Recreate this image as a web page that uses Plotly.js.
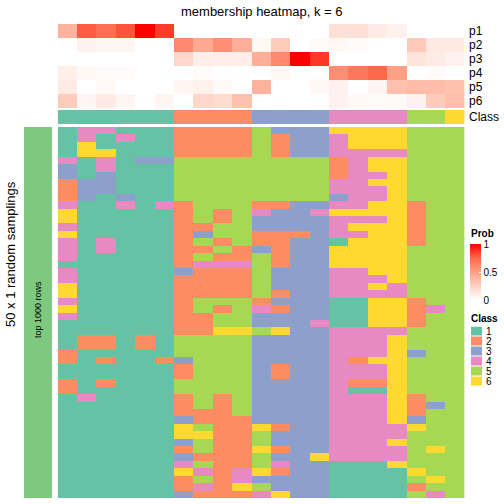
<!DOCTYPE html>
<html><head><meta charset="utf-8">
<script src="https://cdn.plot.ly/plotly-3.0.1.min.js"></script>
<style>html,body{margin:0;padding:0;background:#fff}#chart{width:504px;height:504px}</style>
</head><body><div id="chart"></div>
<script>
// ---------- data ----------
const chartTitle = 'membership heatmap, k = 6';
const sideTitle = '50 x 1 random samplings';
const barLabel = 'top 1000 rows';
const classNames = ['1','2','3','4','5','6'];
const classColors = ['#66C2A5','#FC8D62','#8DA0CB','#E78AC3','#A6D854','#FFD92F'];
const columnClass = [1,1,1,1,1,1,2,2,2,2,3,3,3,3,4,4,4,4,5,5,6];
const probLabels = ['p1','p2','p3','p4','p5','p6'];
const p1 = [0.40,0.78,0.72,0.80,1.00,0.86,0,0,0,0,0,0,0,0,0.17,0.17,0.11,0.07,0,0,0];
const p2 = [0,0.07,0.05,0.05,0,0,0.60,0.45,0.58,0.42,0.04,0.28,0,0.02,0.04,0.02,0,0,0.29,0.12,0.12];
const p3 = [0,0,0,0,0,0,0.22,0.10,0.10,0.10,0.42,0.60,1.00,0.87,0,0,0,0,0.15,0.11,0.07];
const p4 = [0.09,0.04,0.02,0.02,0,0.01,0,0.02,0.01,0,0,0.04,0,0,0.58,0.68,0.75,0.50,0,0.02,0];
const p5 = [0.11,0,0.03,0,0,0,0.05,0.08,0.03,0,0.40,0,0,0.04,0.07,0,0.05,0.34,0.36,0.36,0.33];
const p6 = [0.28,0.05,0.11,0.05,0,0.05,0,0.22,0.20,0.33,0,0.01,0,0.01,0.07,0.04,0.02,0.03,0.07,0.29,0.35];
const samplings = [
[1,4,4,1,1,1,2,2,2,2,5,3,3,3,6,6,6,6,5,5,5],
[1,4,1,4,1,1,2,2,2,2,5,2,3,3,4,6,6,6,5,5,5],
[1,6,1,1,1,1,2,2,2,2,5,2,3,3,4,6,6,6,5,5,5],
[1,6,6,1,1,1,2,2,2,2,5,2,3,3,4,4,4,4,5,5,5],
[4,1,4,1,3,3,5,5,5,5,5,5,5,5,2,4,6,6,5,5,5],
[3,1,4,1,1,1,5,5,5,5,5,5,5,5,2,4,6,6,5,5,5],
[3,1,3,1,1,1,5,5,5,5,5,5,5,5,2,4,4,6,5,5,5],
[2,3,3,1,1,1,5,5,5,5,5,5,5,5,4,4,6,6,5,5,5],
[2,3,3,1,1,1,5,5,5,5,5,5,5,5,4,4,4,6,5,5,5],
[2,3,1,3,1,1,5,5,5,5,5,5,5,5,3,4,4,6,5,5,5],
[4,1,1,4,1,4,2,5,5,5,2,2,3,3,4,4,6,6,2,5,5],
[6,1,1,1,1,1,2,5,2,5,4,3,3,4,6,6,6,6,2,5,5],
[6,1,1,1,1,1,2,5,2,5,3,3,3,3,4,4,4,6,2,5,5],
[4,1,1,1,1,1,2,2,5,5,3,3,3,3,4,6,6,6,2,5,5],
[6,1,1,1,1,1,2,3,5,5,2,2,2,3,4,4,6,6,2,5,5],
[4,1,4,1,1,1,2,5,2,5,2,2,3,3,1,6,6,6,2,5,5],
[4,1,4,1,1,1,2,2,5,2,3,2,3,3,6,6,6,6,5,5,5],
[4,1,1,1,1,1,2,5,2,2,5,2,3,3,6,6,6,6,5,5,5],
[1,1,1,1,1,1,2,4,4,4,5,2,3,3,6,6,6,6,5,5,5],
[4,1,1,1,1,1,3,2,2,2,5,3,3,3,4,4,6,6,5,5,5],
[4,1,1,1,1,1,2,2,2,2,5,3,3,3,4,4,4,6,5,5,5],
[6,1,1,1,1,1,2,2,2,2,5,3,3,3,4,4,6,4,5,5,5],
[6,1,1,1,1,1,2,2,2,2,5,2,3,3,4,4,4,4,5,5,5],
[4,1,1,1,1,1,2,5,5,5,2,3,3,3,1,1,6,6,2,5,5],
[6,1,1,1,1,1,2,5,2,5,4,2,3,3,1,1,6,6,2,4,5],
[4,1,1,1,1,1,2,2,5,5,3,3,3,3,1,1,6,6,2,5,5],
[1,1,1,1,1,1,2,2,5,5,3,3,3,4,1,1,6,6,2,5,5],
[1,1,1,1,1,1,2,2,6,6,5,6,3,3,4,4,4,4,5,5,5],
[1,2,2,1,2,1,5,5,5,5,3,3,3,3,4,4,4,6,5,5,5],
[1,2,2,1,2,1,5,5,5,5,3,3,3,3,4,4,4,6,5,5,5],
[2,1,1,1,1,1,5,5,5,5,3,3,3,3,4,4,4,6,3,5,5],
[2,1,2,1,1,2,3,5,5,5,3,3,3,3,4,2,6,6,5,5,5],
[1,1,1,1,1,1,2,5,5,5,3,2,3,3,4,4,4,6,5,5,5],
[1,1,1,1,1,1,2,5,5,5,3,2,3,3,4,4,4,6,5,5,5],
[2,1,2,1,1,1,5,5,5,5,3,3,3,3,4,2,2,6,5,5,5],
[2,1,1,1,1,1,5,5,5,5,3,3,3,3,4,1,1,6,5,5,5],
[1,4,1,1,1,1,2,5,2,5,3,3,3,3,4,4,4,6,2,5,5],
[1,1,1,1,1,1,2,5,2,5,3,3,3,3,4,4,4,6,2,3,5],
[1,1,1,1,1,1,2,2,2,5,3,3,3,3,4,4,4,6,2,5,5],
[1,1,1,1,1,1,3,2,2,2,3,3,3,3,4,4,4,6,3,5,5],
[1,1,1,1,1,1,6,5,2,2,6,2,3,3,4,4,4,4,6,5,5],
[1,1,1,1,1,1,6,6,2,2,5,3,3,3,4,4,4,4,5,5,5],
[1,1,1,1,1,1,3,5,2,2,5,3,3,3,4,4,4,6,5,5,5],
[1,1,1,1,1,1,2,5,2,2,6,2,3,3,4,4,4,4,5,6,5],
[1,1,1,1,1,1,3,2,2,2,5,3,3,6,4,4,4,4,5,5,5],
[1,1,1,1,1,1,4,5,2,2,5,4,3,3,1,1,1,6,5,5,5],
[1,1,1,1,1,1,6,4,2,4,6,2,3,3,1,1,1,1,6,5,5],
[1,1,1,1,1,1,2,5,2,4,3,3,3,3,1,1,1,1,5,6,5],
[1,1,1,1,1,1,2,4,2,6,5,3,3,3,1,1,1,1,2,5,5],
[1,1,1,1,1,1,3,2,2,2,4,6,3,3,1,1,1,1,5,4,5]
];
const samplingBarColor = '#7FC97F';

// ---------- helpers ----------
const W = 504, H = 504;
const px = v => v / W;
const py = v => 1 - v / H;
const FONT = 'Liberation Sans, Arial, Helvetica, sans-serif';
function discreteScale(colors){
  const n = colors.length, s = [];
  colors.forEach((c,i)=>{ s.push([i/n, c]); s.push([(i+1)/n, c]); });
  return s;
}
const classScale = discreteScale(classColors);
const probScale = [[0,'#FFFFFF'],[0.25,'#FFD2C3'],[0.5,'#FF9F85'],[0.75,'#FF694B'],[1,'#FF0000']];
const nCols = columnClass.length;
const colIdx = columnClass.map((_,i)=>i);
const rowIdx = samplings.map((_,i)=>i);

const traces = [
  { type:'heatmap', z:samplings, x:colIdx, y:rowIdx, xaxis:'x', yaxis:'y',
    colorscale:classScale, zmin:0.5, zmax:classNames.length+0.5, showscale:false, hoverinfo:'skip' },
  { type:'heatmap', z:[columnClass], x:colIdx, y:[0], xaxis:'x', yaxis:'y2',
    colorscale:classScale, zmin:0.5, zmax:classNames.length+0.5, showscale:false, hoverinfo:'skip' },
  { type:'heatmap', z:[p1,p2,p3,p4,p5,p6], x:colIdx, y:probLabels.map((_,i)=>i), xaxis:'x', yaxis:'y3',
    colorscale:probScale, zmin:0, zmax:1, hoverinfo:'skip',
    colorbar:{ x:px(470), xanchor:'left', xpad:0, y:py(272), yanchor:'middle', ypad:0,
      len:56, lenmode:'pixels', thickness:11, thicknessmode:'pixels', outlinewidth:0, borderwidth:0,
      tickvals:[0,0.5,1], ticktext:['0','0.5','1'], ticks:'inside', ticklen:2, tickcolor:'#ffffff',
      tickfont:{size:10, family:FONT, color:'#000'} } },
  { type:'heatmap', z:rowIdx.map(()=>[1]), x:[0], y:rowIdx, xaxis:'x2', yaxis:'y',
    colorscale:[[0,samplingBarColor],[1,samplingBarColor]], showscale:false, hoverinfo:'skip' },
  { type:'heatmap', z:classNames.map((_,i)=>[i+1]), x:[0], y:classNames.map((_,i)=>i), xaxis:'x3', yaxis:'y4',
    colorscale:classScale, zmin:0.5, zmax:classNames.length+0.5, showscale:false, ygap:1, hoverinfo:'skip' }
];

const ann = [];
ann.push({text:chartTitle, x:px(262), y:py(11), xref:'paper', yref:'paper', showarrow:false,
  xanchor:'center', yanchor:'middle', font:{size:13, family:FONT, color:'#000'}});
ann.push({text:sideTitle, x:px(10), y:py(254), xref:'paper', yref:'paper', showarrow:false, textangle:-90,
  xanchor:'center', yanchor:'middle', font:{size:13, family:FONT, color:'#000'}});
ann.push({text:barLabel, x:px(38), y:py(310), xref:'paper', yref:'paper', showarrow:false, textangle:-90,
  xanchor:'center', yanchor:'middle', font:{size:9, family:FONT, color:'#000'}});
probLabels.forEach((t,i)=>ann.push({text:t, x:px(467), y:i, xref:'paper', yref:'y3', showarrow:false,
  xanchor:'left', yanchor:'middle', font:{size:12, family:FONT, color:'#000'}}));
ann.push({text:'Class', x:px(467), y:0, xref:'paper', yref:'y2', showarrow:false,
  xanchor:'left', yanchor:'middle', font:{size:12, family:FONT, color:'#000'}});
ann.push({text:'<b>Prob</b>', x:px(469), y:py(233), xref:'paper', yref:'paper', showarrow:false,
  xanchor:'left', yanchor:'middle', font:{size:10, family:FONT, color:'#000'}});
ann.push({text:'<b>Class</b>', x:px(469), y:py(318), xref:'paper', yref:'paper', showarrow:false,
  xanchor:'left', yanchor:'middle', font:{size:10, family:FONT, color:'#000'}});
classNames.forEach((t,i)=>ann.push({text:t, x:px(484), y:i, xref:'paper', yref:'y4', showarrow:false,
  xanchor:'left', yanchor:'middle', font:{size:10, family:FONT, color:'#000'}}));

const hide = {visible:false, fixedrange:true};
const layout = {
  width:W, height:H, margin:{l:0,r:0,t:0,b:0}, paper_bgcolor:'#fff', plot_bgcolor:'rgba(0,0,0,0)',
  showlegend:false,
  xaxis:Object.assign({domain:[px(57.7),px(464.5)], range:[-0.5,nCols-0.5], anchor:'y'}, hide),
  yaxis:Object.assign({domain:[py(498),py(127)], range:[samplings.length-0.5,-0.5], anchor:'x'}, hide),
  yaxis2:Object.assign({domain:[py(124),py(110)], range:[0.5,-0.5], anchor:'x'}, hide),
  yaxis3:Object.assign({domain:[py(108),py(24)], range:[probLabels.length-0.5,-0.5], anchor:'x'}, hide),
  xaxis2:Object.assign({domain:[px(24),px(52)], range:[-0.5,0.5], anchor:'y'}, hide),
  xaxis3:Object.assign({domain:[px(471),px(482)], range:[-0.5,0.5], anchor:'y4'}, hide),
  yaxis4:Object.assign({domain:[py(386.5),py(326.5)], range:[classNames.length-0.5,-0.5], anchor:'x3'}, hide),
  annotations:ann
};
Plotly.newPlot('chart', traces, layout, {staticPlot:true, displayModeBar:false});
</script></body></html>
